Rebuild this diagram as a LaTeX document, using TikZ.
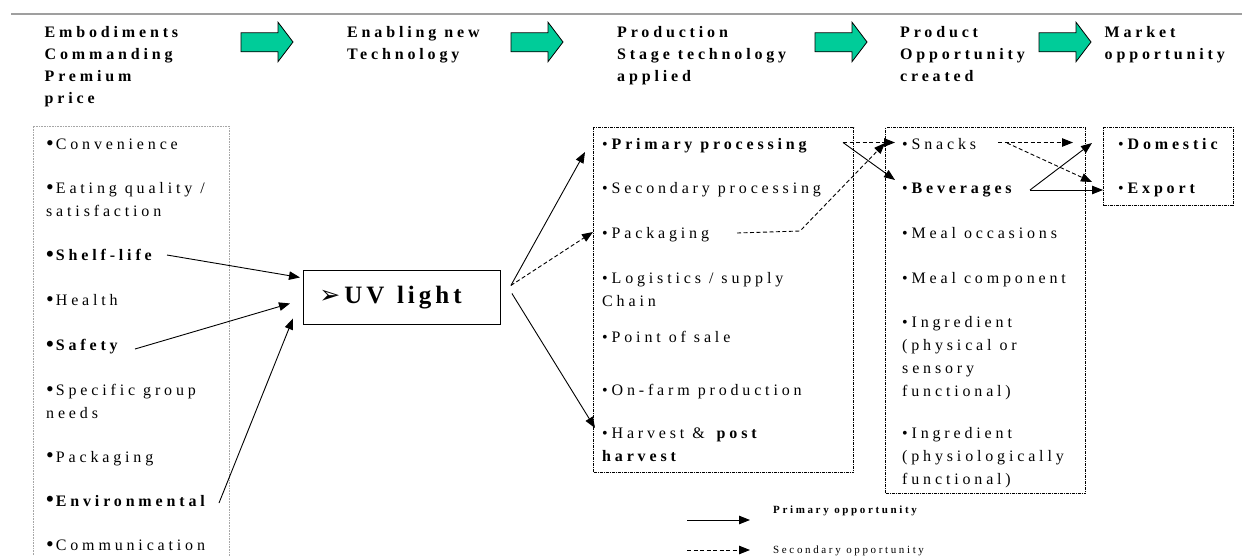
\documentclass[tikz,border=0pt]{standalone}
\usepackage{fontspec}
\setmainfont{Liberation Serif}
\newfontfamily\bodyf[LetterSpace=24]{Liberation Serif}
\newfontfamily\uvf[LetterSpace=16]{Liberation Serif}
\newfontfamily\symf{DejaVu Sans}
\usetikzlibrary{arrows.meta,calc}
\definecolor{arrowgreen}{RGB}{0,204,153}
\newcommand{\lbul}{{\fontsize{22}{22}\selectfont\raisebox{-0.8pt}{\textbullet}}\kern2pt}
\newcommand{\ws}{\hspace{0.5em}}
\newcommand{\garrow}[1]{\draw[greenarrow] (#1,32.8) -- ++(37,0) -- ++(0,-10.6) -- ++(15,19.8) -- ++(-15,19.7) -- ++(0,-9.9) -- ++(-37,0) -- cycle;}
\tikzset{
  item/.style={anchor=base west, inner sep=0pt, font=\bodyf\fontsize{16}{23}\selectfont, text width=260pt, align=left},
  head/.style={item, font=\bodyf\bfseries\fontsize{16}{22}\selectfont},
  leg/.style={anchor=base west, inner sep=0pt, font=\bodyf\fontsize{11}{13}\selectfont},
  uvbox/.style={draw, line width=0.9pt, anchor=north west, minimum width=197pt, minimum height=54pt, text width=165pt, inner xsep=16pt, inner ysep=0pt, align=left, font=\uvf\bfseries\fontsize{25}{30}\selectfont},
  dashbox/.style={draw, line width=1.3pt, dash pattern=on 3pt off 1pt on 1pt off 1pt, inner sep=0pt, anchor=north west},
  leftbox/.style={draw=gray!70, line width=0.8pt, dash pattern=on 0.8pt off 0.8pt},
  greenarrow/.style={draw=black, line width=0.8pt, fill=arrowgreen},
  primarr/.style={draw, line width=0.9pt, -{Triangle[length=11pt,width=8.5pt]}},
  secarr/.style={primarr, dash pattern=on 4pt off 2.5pt},
}
\begin{document}
\begin{tikzpicture}[x=1pt,y=-1pt]
\useasboundingbox (0,0) rectangle (1242,555);
\fill[white] (0,0) rectangle (1242,555);

% top rule
\draw[line width=2pt, gray!75] (11,14) -- (1242,14);

% headers
\node[head] (h1) at (44.5,37.5) {Embodiments\\Commanding\\Premium\\price};
\node[head] (h2) at (347,37.5) {Enabling\ws new\\Technology};
\node[head] (h3) at (617,37.5) {Production\\Stage\ws technology\\applied};
\node[head] (h4) at (900,37.5) {Product\\Opportunity\\created};
\node[head] (h5) at (1104.5,37.5) {Market\\opportunity};

% green block arrows
\garrow{241}
\garrow{511}
\garrow{815}
\garrow{1039}

% boxes
\draw[leftbox] (33,560) |- (229,126) -- (229,560);
\node[dashbox, minimum width=260pt, minimum height=345pt] (pbox) at (593,127) {};
\node[dashbox, minimum width=200pt, minimum height=366pt] (obox) at (885,127) {};
\node[dashbox, minimum width=130pt, minimum height=78pt] (mbox) at (1103,127) {};

% left column
\node[item] (conv)   at (46,149.5) {\lbul Convenience};
\node[item] (eat)    at (46,193.5) {\lbul Eating\ws quality\ws /\\satisfaction};
\node[item] (shelf)  at (46,260.5) {\textbf{\lbul Shelf-life}};
\node[item] (health) at (46,305.5) {\lbul Health};
\node[item] (safety) at (46,350.5) {\textbf{\lbul Safety}};
\node[item] (spec)   at (46,395.5) {\lbul Specific\ws group\\needs};
\node[item] (lpack)  at (46,462)   {\lbul Packaging};
\node[item] (env)    at (46,506)   {\textbf{\lbul Environmental}};
\node[item] (comm)   at (46,550.5) {\lbul Communication};

% UV light
\node[uvbox] (uv) at (303,270) {{\symf ➢}\hspace{4pt}UV\hspace{0.5em}light};

% production stage
\node[item] (prim)   at (602,149.5) {\textbullet\textbf{Primary\ws processing}};
\node[item] (second) at (602,193.5) {\textbullet Secondary\ws processing};
\node[item] (pack)   at (602,238.5) {\textbullet Packaging};
\node[item] (logi)   at (602,283.5) {\textbullet Logistics\ws /\ws supply\\Chain};
\node[item] (pos)    at (602,342.5) {\textbullet Point\ws of\ws sale};
\node[item] (farm)   at (602,395.5) {\textbullet On-farm\ws production};
\node[item] (harv)   at (602,438.5) {\textbullet Harvest\ws\&\ws\textbf{post}\\\textbf{harvest}};

% product opportunity
\node[item] (snack) at (902,149.5) {\textbullet Snacks};
\node[item] (bev)   at (902,193.5) {\textbullet\textbf{Beverages}};
\node[item] (mealo) at (902,238.5) {\textbullet Meal\ws occasions};
\node[item] (mealc) at (902,283.5) {\textbullet Meal\ws component};
\node[item] (ingr1) at (902,327.5) {\textbullet Ingredient\\(physical\ws or\\sensory\\functional)};
\node[item] (ingr2) at (902,438.5) {\textbullet Ingredient\\(physiologically\\functional)};

% market
\node[item] (dom) at (1118,149.5) {\textbullet\textbf{Domestic}};
\node[item] (exp) at (1118,193.5) {\textbullet\textbf{Export}};

% legend
\node[leg] (lgp) at (773,513.5) {\textbf{Primary\ws opportunity}};
\node[leg] (lgs) at (773,553) {Secondary\ws opportunity};

% connectors into UV
\draw[primarr] ($(shelf.base west)+(121,-5.5)$) -- ($(uv.west)+(-3,-20)$);
\draw[primarr] ($(safety.base west)+(89,-1.5)$) -- ($(uv.west)+(-13,6)$);
\draw[primarr] ($(env.base west)+(173,-3)$) -- ($(uv.west)+(-10,21)$);

% connectors out of UV
\draw[primarr] ($(uv.east)+(10,-12)$) -- ($(prim.base west)+(-17,2.5)$);
\draw[secarr]  ($(uv.east)+(10,-12)$) -- ($(pack.base west)+(-9,-6.5)$);
\draw[primarr] ($(uv.east)+(11,-4)$) -- ($(harv.base west)+(-7,-10.5)$);

% production -> product
\draw[secarr]  ($(prim.base west)+(241,-7)$) -- ($(snack.base west)+(-7,-7)$);
\draw[primarr] ($(prim.base west)+(241,-7)$) -- ($(bev.base west)+(-7,-13.5)$);
\draw[secarr]  ($(pack.base west)+(135,-5.5)$) -- ($(pack.base west)+(198,-7.5)$) -- ($(snack.base west)+(-17,-6.5)$);

% product -> market
\draw[secarr]  ($(snack.base west)+(96,-7)$) -- ($(dom.base west)+(-45,-7)$);
\draw[secarr]  ($(snack.base west)+(105,-6.5)$) -- ($(exp.base west)+(-26,-11.5)$);
\draw[primarr] ($(bev.base west)+(128,-3.5)$) -- ($(dom.base west)+(-26,-6.5)$);
\draw[primarr] ($(bev.base west)+(128,-3.5)$) -- ($(exp.base west)+(-15,-3.5)$);

% legend arrows
\draw[primarr] ($(lgp.base west)+(-86,6.5)$) -- ($(lgp.base west)+(-23,6.5)$);
\draw[secarr]  ($(lgs.base west)+(-86,-3)$) -- ($(lgs.base west)+(-23,-3)$);
\end{tikzpicture}
\end{document}
